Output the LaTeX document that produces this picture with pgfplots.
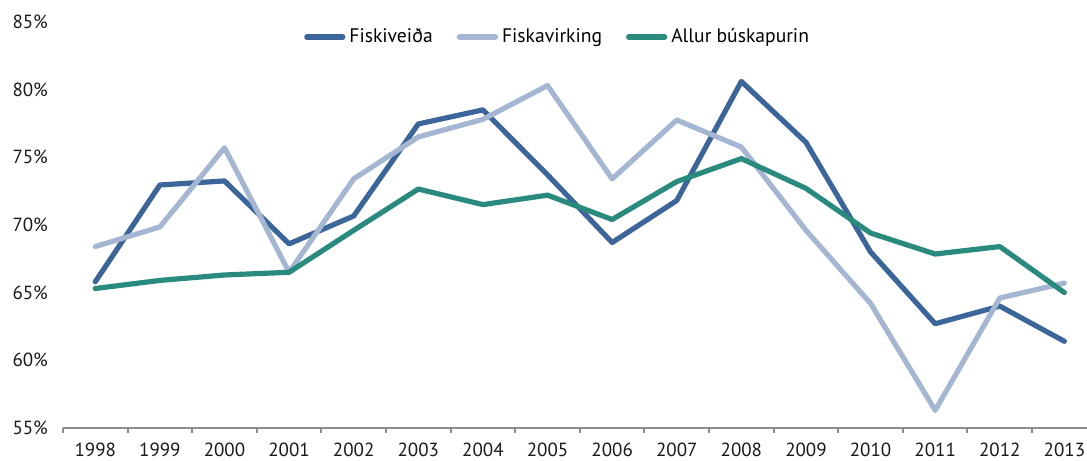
\documentclass[border=0pt]{standalone}
\usepackage{pgfplots}
\pgfplotsset{compat=1.18}
\usepackage{fontspec}
\setmainfont{PT Sans}
\definecolor{fveida}{HTML}{3C6699}
\definecolor{fvirk}{HTML}{A5B6D3}
\definecolor{allur}{HTML}{2A8A7E}
\definecolor{axgray}{HTML}{8C8C8C}

\begin{document}
\begin{tikzpicture}
\begin{axis}[
    scale only axis,
    width=512pt, height=203pt,
    xmin=-0.5, xmax=15.35,
    ymin=55, ymax=85,
    ytick={55,60,...,85},
    yticklabel={\pgfmathprintnumber{\tick}\%},
    /pgf/number format/assume math mode=true,
    xtick={0,...,15},
    xticklabels={1998,1999,2000,2001,2002,2003,2004,2005,2006,2007,2008,2009,2010,2011,2012,2013},
    minor xtick={-0.5,0.5,...,14.5},
    major tick length=0pt,
    minor tick length=2.5pt,
    tick align=outside,
    xtick style={axgray, line width=1pt},
    ytick style={draw=none},
    axis x line*=bottom,
    axis y line*=left,
    x axis line style={axgray, line width=1pt, -},
    y axis line style={draw=none},
    tick label style={font=\fontsize{9.5}{11}\selectfont, text=black!90},
    xticklabel style={yshift=-4pt},
    yticklabel style={xshift=-4pt},
    clip=false,
    every axis plot/.style={line width=2.6pt, line join=round, line cap=round},
    legend style={font=\fontsize{9.8}{11}\selectfont, draw=none, fill=none,
        at={(rel axis cs:0.484,0.963)}, anchor=center,
        /tikz/every even column/.append style={column sep=10pt}},
    legend columns=3,
    legend image code/.code={\draw[#1, line width=2.6pt, line cap=round] (0pt,0pt) -- (18pt,0pt);},
]
\addplot[fveida] coordinates {
(0,65.8)(1,72.95)(2,73.25)(3,68.6)(4,70.66)(5,77.46)(6,78.5)(7,73.7)
(8,68.7)(9,71.8)(10,80.6)(11,76.1)(12,68.0)(13,62.7)(14,64.0)(15,61.4)};
\addlegendentry{Fiskiveiða}
\addplot[fvirk] coordinates {
(0,68.4)(1,69.85)(2,75.7)(3,66.5)(4,73.4)(5,76.5)(6,77.8)(7,80.3)
(8,73.4)(9,77.75)(10,75.75)(11,69.6)(12,64.2)(13,56.3)(14,64.6)(15,65.7)};
\addlegendentry{Fiskavirking}
\addplot[allur] coordinates {
(0,65.3)(1,65.9)(2,66.3)(3,66.5)(4,69.6)(5,72.65)(6,71.5)(7,72.2)
(8,70.4)(9,73.2)(10,74.9)(11,72.7)(12,69.4)(13,67.85)(14,68.4)(15,65.0)};
\addlegendentry{Allur búskapurin}
\coordinate (bl) at (rel axis cs:-0.0615,-0.0813);
\coordinate (tr) at (rel axis cs:1,1.054);
\end{axis}
\pgfresetboundingbox
\path[use as bounding box] (bl) rectangle (tr);
\end{tikzpicture}
\end{document}
